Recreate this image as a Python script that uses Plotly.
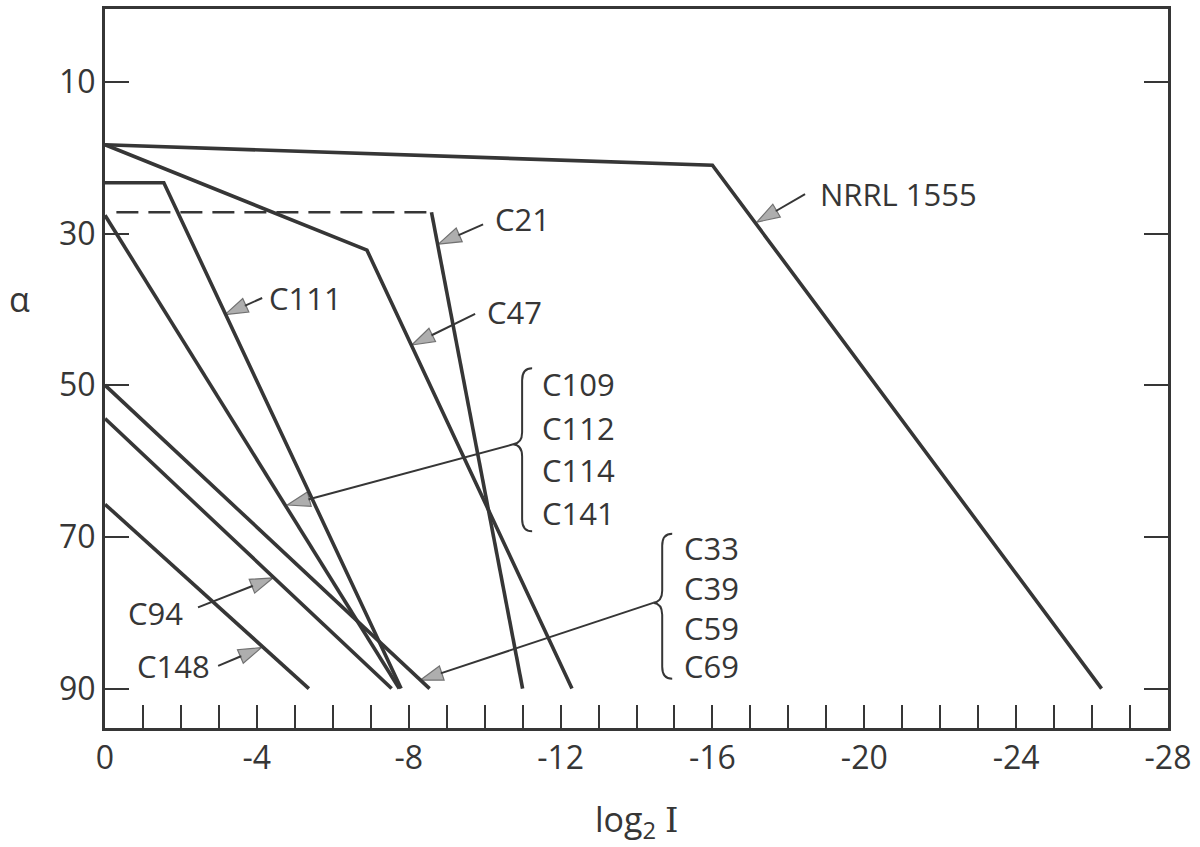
import plotly.graph_objects as go

# --- series: log2 I (x) against alpha (y) ---
nrrl_1555_x = [0, -16.0, -26.25]
nrrl_1555_a = [18.3, 21.0, 90]
c47_x = [0, -6.9, -12.3]
c47_a = [18.3, 32.2, 90]
c111_x = [0, -1.55, -7.8]
c111_a = [23.3, 23.3, 90]
c21_dash_x = [-0.3, -8.6]
c21_dash_a = [27.2, 27.2]
c21_x = [-8.6, -11.0]
c21_a = [27.2, 90]
c109_group_x = [0, -7.75]
c109_group_a = [27.6, 90]
c33_group_x = [0, -8.55]
c33_group_a = [50, 90]
c94_x = [0, -7.55]
c94_a = [54.4, 90]
c148_x = [0, -5.37]
c148_a = [65.7, 90]

# --- axis ticks ---
x_tick_vals = [0, -4, -8, -12, -16, -20, -24, -28]
x_tick_text = ["0", "-4", "-8", "-12", "-16", "-20", "-24", "-28"]
x_minor_vals = list(range(-27, 0))
y_tick_vals = [10, 30, 50, 70, 90]

# --- callouts: label, label anchor (x, alpha), side, arrow tail, arrow tip ---
callout_labels = ["NRRL 1555", "C21", "C47", "C111", "C94", "C148"]
callout_text_x = [-18.78, -10.22, -10.01, -4.27, -2.11, -2.82]
callout_text_a = [24.8, 28.1, 40.3, 38.5, 80.0, 87.0]
callout_side = ["left", "left", "left", "left", "right", "right"]
callout_tail_x = [-18.44, -9.96, -9.75, -4.14, -2.45, -2.98]
callout_tail_a = [24.8, 28.8, 40.6, 38.5, 79.3, 87.0]
callout_tip_x = [-17.17, -8.78, -8.08, -3.16, -4.43, -4.12]
callout_tip_a = [28.5, 31.4, 44.7, 40.7, 75.4, 84.6]

# --- grouped labels with braces ---
group1_labels = ["C109", "C112", "C114", "C141"]
group1_label_x = -11.46
group1_label_a = [49.9, 55.6, 61.2, 66.9]
group1_brace = (-10.75, 57.8)
group1_tip = (-4.8, 65.8)

group2_labels = ["C33", "C39", "C59", "C69"]
group2_label_x = -15.2
group2_label_a = [71.5, 76.8, 82.0, 87.0]
group2_brace = (-14.44, 78.7)
group2_tip = (-8.30, 88.9)

INK = "#363636"
FONT = "Open Sans"

fig = go.Figure()

line_style = dict(color=INK, width=3.6)
for xs, ys in [
    (nrrl_1555_x, nrrl_1555_a),
    (c47_x, c47_a),
    (c111_x, c111_a),
    (c21_x, c21_a),
    (c109_group_x, c109_group_a),
    (c33_group_x, c33_group_a),
    (c94_x, c94_a),
    (c148_x, c148_a),
]:
    fig.add_trace(go.Scatter(x=xs, y=ys, mode="lines", line=line_style,
                             hoverinfo="skip"))

fig.add_trace(go.Scatter(x=c21_dash_x, y=c21_dash_a, mode="lines",
                         line=dict(color=INK, width=2.4, dash="22px,10px"),
                         hoverinfo="skip"))


def add_arrow(tail, tip):
    fig.add_trace(go.Scatter(
        x=[tail[0], tip[0]], y=[tail[1], tip[1]],
        mode="lines+markers",
        line=dict(color=INK, width=2),
        marker=dict(symbol="arrow", size=[0, 24], angleref="previous",
                    color="#8c8c8c", line=dict(color=INK, width=1.2)),
        hoverinfo="skip",
    ))


annotations = []
for lab, tx, ta, side, ax_, aa, px_, pa in zip(
        callout_labels, callout_text_x, callout_text_a, callout_side,
        callout_tail_x, callout_tail_a, callout_tip_x, callout_tip_a):
    add_arrow((ax_, aa), (px_, pa))
    annotations.append(dict(x=tx, y=ta, xref="x", yref="y", text=lab,
                            showarrow=False, xanchor=side, yanchor="middle",
                            font=dict(family=FONT, size=31, color=INK)))

shapes = []


def brace_path(top, bottom):
    # curly brace with its point at the origin (pixel units, y up)
    return (f"M19,{top} Q9,{top} 9,{top - 12} L9,12 Q9,1 0,0 "
            f"Q9,-1 9,-12 L9,{bottom + 12} Q9,{bottom} 19,{bottom}")


for labels, lx, las, brace, tip, top, bottom in [
    (group1_labels, group1_label_x, group1_label_a, group1_brace, group1_tip, 76, -87),
    (group2_labels, group2_label_x, group2_label_a, group2_brace, group2_tip, 69, -76),
]:
    for lab, la in zip(labels, las):
        annotations.append(dict(x=lx, y=la, xref="x", yref="y", text=lab,
                                showarrow=False, xanchor="left", yanchor="middle",
                                font=dict(family=FONT, size=31, color=INK)))
    shapes.append(dict(type="path", xref="x", yref="y",
                       xsizemode="pixel", ysizemode="pixel",
                       xanchor=brace[0], yanchor=brace[1],
                       path=brace_path(top, bottom),
                       line=dict(color=INK, width=2)))
    add_arrow(brace, tip)

# axis titles
annotations.append(dict(x=-0.080, y=0.596, xref="paper", yref="paper",
                        text="α", showarrow=False, xanchor="center",
                        yanchor="middle",
                        font=dict(family=FONT, size=34, color=INK)))
annotations.append(dict(x=0.5, y=-0.13, xref="paper", yref="paper",
                        text="log<sub>2</sub> <span style='font-family:DejaVu Serif'>I</span>",
                        showarrow=False,
                        xanchor="center", yanchor="middle",
                        font=dict(family=FONT, size=34, color=INK)))

fig.update_layout(
    width=1200, height=847,
    margin=dict(l=105, r=32, t=6, b=119),
    paper_bgcolor="white", plot_bgcolor="white",
    showlegend=False,
    annotations=annotations,
    shapes=shapes,
    font=dict(family=FONT, color=INK),
)

fig.update_xaxes(
    range=[0, -28],
    tickmode="array", tickvals=x_tick_vals, ticktext=x_tick_text,
    ticks="inside", ticklen=23, tickwidth=2, tickcolor=INK,
    minor=dict(tickmode="array", tickvals=x_minor_vals, ticks="inside",
               ticklen=23, tickwidth=2, tickcolor=INK),
    showline=True, linewidth=3, linecolor=INK, mirror=True,
    showgrid=False, zeroline=False,
    tickfont=dict(family=FONT, size=32, color=INK),
)
fig.update_yaxes(
    range=[95.2, 0.4],
    tickmode="array", tickvals=y_tick_vals,
    ticks="inside", ticklen=24, tickwidth=2, tickcolor=INK,
    showline=True, linewidth=3, linecolor=INK, mirror="ticks",
    showgrid=False, zeroline=False,
    tickfont=dict(family=FONT, size=32, color=INK),
)

fig.write_html("out.html")
